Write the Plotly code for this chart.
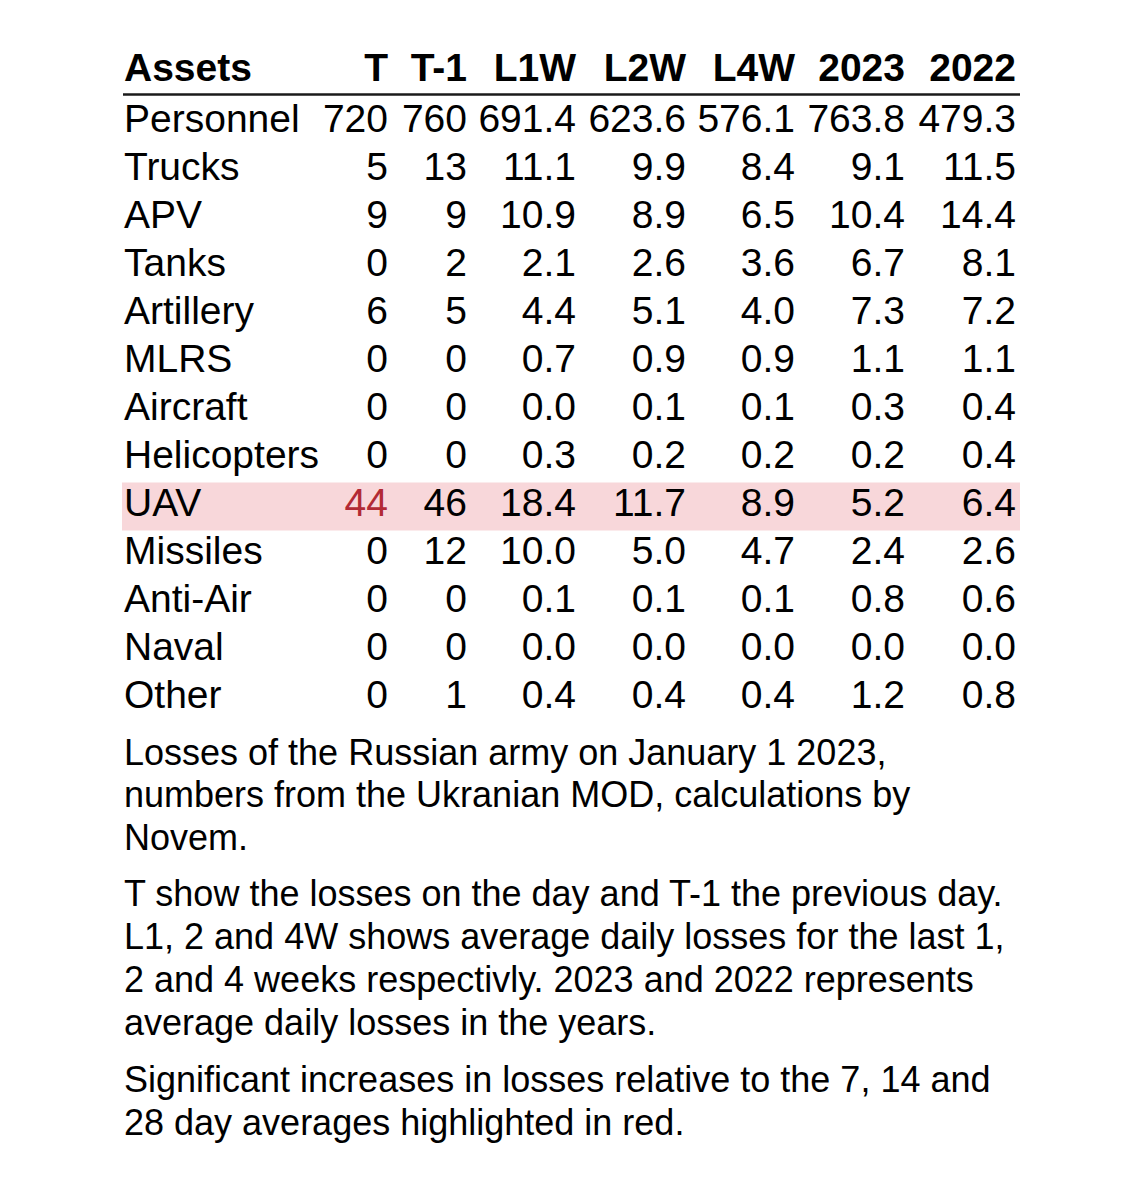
"""
Russian army losses table (Ukrainian MOD data), rebuilt as a Plotly figure.
"""

import plotly.graph_objects as go

# ── data ─────────────────────────────────────────────────────────────────────

columns = ["T", "T-1", "L1W", "L2W", "L4W", "2023", "2022"]

assets = ["Personnel", "Trucks", "APV", "Tanks", "Artillery", "MLRS", "Aircraft",
          "Helicopters", "UAV", "Missiles", "Anti-Air", "Naval", "Other"]

t_day   = [720, 5, 9, 0, 6, 0, 0, 0, 44, 0, 0, 0, 0]
t_prev  = [760, 13, 9, 2, 5, 0, 0, 0, 46, 12, 0, 0, 1]
l1w     = [691.4, 11.1, 10.9, 2.1, 4.4, 0.7, 0.0, 0.3, 18.4, 10.0, 0.1, 0.0, 0.4]
l2w     = [623.6, 9.9, 8.9, 2.6, 5.1, 0.9, 0.1, 0.2, 11.7, 5.0, 0.1, 0.0, 0.4]
l4w     = [576.1, 8.4, 6.5, 3.6, 4.0, 0.9, 0.1, 0.2, 8.9, 4.7, 0.1, 0.0, 0.4]
avg2023 = [763.8, 9.1, 10.4, 6.7, 7.3, 1.1, 0.3, 0.2, 5.2, 2.4, 0.8, 0.0, 1.2]
avg2022 = [479.3, 11.5, 14.4, 8.1, 7.2, 1.1, 0.4, 0.4, 6.4, 2.6, 0.6, 0.0, 0.8]

highlight_row = "UAV"
highlight_cells = [("UAV", "T")]   # significant increases -> red text

notes = [
    ["Losses of the Russian army on January 1 2023,",
     "numbers from the Ukranian MOD, calculations by",
     "Novem."],
    ["T show the losses on the day and T-1 the previous day.",
     "L1, 2 and 4W shows average daily losses for the last 1,",
     "2 and 4 weeks respectivly. 2023 and 2022 represents",
     "average daily losses in the years."],
    ["Significant increases in losses relative to the 7, 14 and",
     "28 day averages highlighted in red."],
]

# ── layout constants ────────────────────────────────────────────────────────

PAGE_W, PAGE_H = 1140, 1182
PAGE_MARGIN = 8                      # default <body> margin of the html page
W, H = PAGE_W - 2 * PAGE_MARGIN, PAGE_H - 2 * PAGE_MARGIN
FONT = "Liberation Sans, Arial, sans-serif"
ROW_PX = 48           # pixel height of one table row
FIRST_ROW_PX = 122.5  # first body row (page pixels)
LEFT_X = 124
COL_RIGHT = [388, 467, 576, 686, 795, 905, 1016]
TABLE_RIGHT = 1020
HEADER_Y = -1.0625
RULE_Y = -0.583       # rule under the header
TABLE_SIZE = 39
NOTE_SIZE = 36
RED = "#b22a35"
PINK = "#f8d7da"

values = [t_day, t_prev, l1w, l2w, l4w, avg2023, avg2022]
decimals = [0, 0, 1, 1, 1, 1, 1]

rows = list(range(len(assets)))

fig = go.Figure()

# header
fig.add_trace(go.Scatter(
    x=[LEFT_X], y=[HEADER_Y], text=["Assets"], mode="text",
    textposition="middle right",
    textfont=dict(family=FONT, size=TABLE_SIZE, color="black", weight="bold"),
    hoverinfo="skip", showlegend=False,
))
fig.add_trace(go.Scatter(
    x=COL_RIGHT, y=[HEADER_Y] * len(columns), text=columns, mode="text",
    textposition="middle left",
    textfont=dict(family=FONT, size=TABLE_SIZE, color="black", weight="bold"),
    hoverinfo="skip", showlegend=False,
))

# asset names
fig.add_trace(go.Scatter(
    x=[LEFT_X] * len(assets), y=rows, text=assets, mode="text",
    textposition="middle right",
    textfont=dict(family=FONT, size=TABLE_SIZE, color="black"),
    hoverinfo="skip", showlegend=False,
))

# value columns
for col, xr, vals, dec in zip(columns, COL_RIGHT, values, decimals):
    labels = [f"{v:.{dec}f}" for v in vals]
    colors = [RED if (a, col) in highlight_cells else "black" for a in assets]
    fig.add_trace(go.Scatter(
        x=[xr] * len(vals), y=rows, text=labels, mode="text",
        textposition="middle left",
        textfont=dict(family=FONT, size=TABLE_SIZE, color=colors),
        hovertemplate=col + ": %{text}<extra></extra>",
        showlegend=False,
    ))

hi = assets.index(highlight_row)
fig.add_shape(type="rect", xref="x", yref="y",
              x0=LEFT_X - 2, x1=TABLE_RIGHT, y0=hi - 0.5, y1=hi + 0.5,
              fillcolor=PINK, line_width=0, layer="below")
fig.add_shape(type="line", xref="x", yref="y",
              x0=LEFT_X - 1, x1=TABLE_RIGHT, y0=RULE_Y, y1=RULE_Y,
              line=dict(color="#1a1a1a", width=2.5))

# footnotes, one annotation per line
para_top = [752, 893.7, 1079.5]
line_gap = 42.8
for top, para in zip(para_top, notes):
    for i, line in enumerate(para):
        fig.add_annotation(
            x=(LEFT_X - 2 - PAGE_MARGIN) / W,
            y=1 - (top + i * line_gap - PAGE_MARGIN) / H,
            xref="paper", yref="paper", xanchor="left", yanchor="middle",
            text=line, showarrow=False,
            font=dict(family=FONT, size=NOTE_SIZE, color="black"),
        )

# axes in page pixels (x) and table rows (y)
y_top = -(FIRST_ROW_PX - PAGE_MARGIN) / ROW_PX
y_bottom = y_top + H / ROW_PX
fig.update_layout(
    width=W, height=H,
    margin=dict(l=0, r=0, t=0, b=0),
    paper_bgcolor="white", plot_bgcolor="white",
    xaxis=dict(range=[PAGE_MARGIN, PAGE_MARGIN + W], visible=False, fixedrange=True),
    yaxis=dict(range=[y_bottom, y_top], visible=False, fixedrange=True),
)

fig.write_html("out.html")
